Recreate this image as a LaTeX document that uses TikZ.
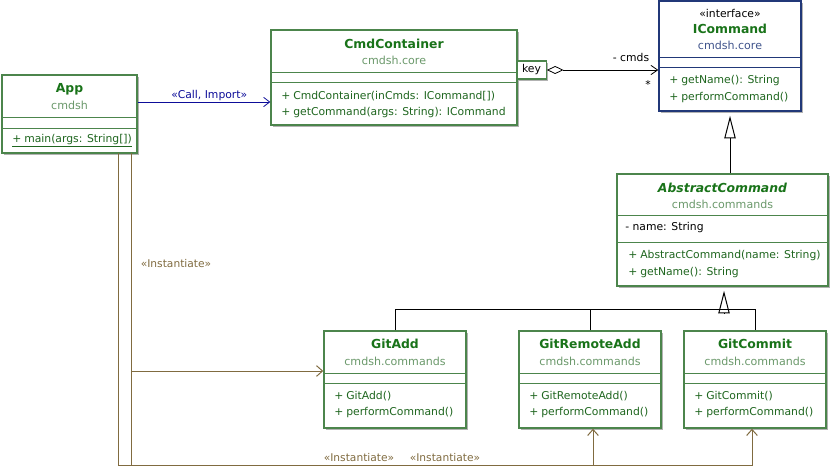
\documentclass[tikz,border=0pt]{standalone}
\usepackage{fontspec}
\setmainfont{DejaVu Sans}
\usetikzlibrary{arrows.meta,fit,shadows}

\definecolor{clsgreen}{rgb}{0.30,0.52,0.30}
\definecolor{titlegreen}{rgb}{0.10,0.45,0.10}
\definecolor{pkggreen}{rgb}{0.42,0.60,0.42}
\definecolor{opgreen}{rgb}{0.12,0.40,0.12}
\definecolor{ifnavy}{rgb}{0.13,0.22,0.47}
\definecolor{ifpkg}{rgb}{0.25,0.33,0.55}
\definecolor{callblue}{rgb}{0.05,0.05,0.60}
\definecolor{instbrown}{rgb}{0.50,0.42,0.25}

\newcommand{\opline}[1]{\makebox[9pt][l]{+}#1}

\tikzset{
  clsbox/.style={draw=clsgreen, fill=white, line width=1.1pt, inner sep=0pt,
    drop shadow={shadow xshift=1.6pt, shadow yshift=-1.6pt, fill=black!30, opacity=1}},
  ifbox/.style={clsbox, draw=ifnavy},
  clsrule/.style={draw=clsgreen, line width=0.75pt},
  clstitle/.style={font=\fontsize{9.3}{11}\selectfont\bfseries, text=titlegreen, inner sep=0pt},
  clspkg/.style={font=\fontsize{8.3}{10}\selectfont, text=pkggreen, inner sep=0pt},
  clsop/.style={font=\fontsize{8.1}{10}\selectfont, text=opgreen, anchor=west, inner sep=0pt},
  clsattr/.style={font=\fontsize{8.1}{10}\selectfont, anchor=west, inner sep=0pt},
  plainlabel/.style={font=\fontsize{8.1}{10}\selectfont, inner sep=0pt},
  keybox/.style={draw=clsgreen, fill=white, line width=1pt, font=\fontsize{8.1}{10}\selectfont,
    minimum width=22pt, minimum height=13.5pt, inner sep=0pt,
    drop shadow={shadow xshift=1.2pt, shadow yshift=-1.2pt, fill=black!30, opacity=1}},
  callline/.style={draw=callblue, line width=0.6pt, -{Straight Barb[length=4.5pt,width=7pt]}},
  aggrline/.style={line width=0.6pt,
    {Diamond[open, length=12.5pt, width=6pt]}-{Straight Barb[length=5pt,width=7pt]}},
  genline/.style={line width=0.75pt},
  gentip/.style={line width=0.75pt, -{Triangle[open, length=17pt, width=8.5pt]}},
  instline/.style={draw=instbrown, line width=0.75pt, -{Straight Barb[length=4.5pt,width=8pt]}},
  instlabel/.style={font=\fontsize{8}{10}\selectfont, text=instbrown, inner sep=0pt}
}

\begin{document}
\begin{tikzpicture}[x=0.75pt,y=-0.75pt]
  \useasboundingbox (0,0) rectangle (831,466);

  % App
  \node[clsbox, fit={(2,75)(137,153)}] (app) {};
  \node[clstitle] (app-name) at (69.5,89) {App};
  \node[clspkg] (app-pkg) at (69.5,105) {cmdsh};
  \draw[clsrule] (app.west |- 0,118) -- (app.east |- 0,118);
  \draw[clsrule] (app.west |- 0,129) -- (app.east |- 0,129);
  \node[clsop] (app-main) at (12,141) {\underline{\opline{main(args: String[])}}};

  % CmdContainer
  \node[clsbox, fit={(271,30)(517,125)}] (cmd) {};
  \node[clstitle] (cmd-name) at (394,44) {CmdContainer};
  \node[clspkg] (cmd-pkg) at (394,60) {cmdsh.core};
  \draw[clsrule] (cmd.west |- 0,73) -- (cmd.east |- 0,73);
  \draw[clsrule] (cmd.west |- 0,83) -- (cmd.east |- 0,83);
  \node[clsop] (cmd-op1) at (281,96) {\opline{CmdContainer(inCmds: ICommand[])}};
  \node[clsop] (cmd-op2) at (281,113) {\opline{getCommand(args: String): ICommand}};
  \node[keybox] (key) at (531.5,70) {key};

  % ICommand
  \node[ifbox, fit={(659,1)(801,111)}] (icmd) {};
  \node[plainlabel] (icmd-stereo) at (730,13) {«interface»};
  \node[clstitle] (icmd-name) at (730,29) {ICommand};
  \node[clspkg, text=ifpkg] (icmd-pkg) at (730,45) {cmdsh.core};
  \draw[clsrule, draw=ifnavy] (icmd.west |- 0,58) -- (icmd.east |- 0,58);
  \draw[clsrule, draw=ifnavy] (icmd.west |- 0,68) -- (icmd.east |- 0,68);
  \node[clsop] (icmd-op1) at (669,81) {\opline{getName(): String}};
  \node[clsop] (icmd-op2) at (669,98) {\opline{performCommand()}};

  % AbstractCommand
  \node[clsbox, fit={(617,174)(828,286)}] (abs) {};
  \node[clstitle, font=\fontsize{9.3}{11}\selectfont\bfseries\itshape] (abs-name) at (722.5,188) {AbstractCommand};
  \node[clspkg] (abs-pkg) at (722.5,204) {cmdsh.commands};
  \draw[clsrule] (abs.west |- 0,216) -- (abs.east |- 0,216);
  \node[clsattr] (abs-attr) at (625,228) {- name: String};
  \draw[clsrule] (abs.west |- 0,243) -- (abs.east |- 0,243);
  \node[clsop] (abs-op1) at (628,256) {\opline{AbstractCommand(name: String)}};
  \node[clsop] (abs-op2) at (628,273) {\opline{getName(): String}};

  % commands
  \foreach \name/\cls/\lx in {gitadd/GitAdd/324, gitremote/GitRemoteAdd/519, gitcommit/GitCommit/684} {
    \node[clsbox, fit={(\lx,331)(\lx+142,428)}] (\name) {};
    \node[clstitle] (\name-name) at (\lx+71,344) {\cls};
    \node[clspkg] (\name-pkg) at (\lx+71,361) {cmdsh.commands};
    \draw[clsrule] (\name.west |- 0,373) -- (\name.east |- 0,373);
    \draw[clsrule] (\name.west |- 0,383) -- (\name.east |- 0,383);
    \node[clsop] (\name-op1) at (\lx+10,396) {\opline{\cls()}};
    \node[clsop] (\name-op2) at (\lx+10,413) {\opline{performCommand()}};
  }

  % call
  \draw[callline] (app.east |- 0,102) -- (cmd.west |- 0,102)
    node[plainlabel, text=callblue, pos=0.54, above=1pt] (call-label) {«Call, Import»};

  % aggregation
  \draw[aggrline] (key.east) -- (icmd.west |- key.east);
  \node[plainlabel] (cmds-role) at (631,57) {- cmds};
  \node[plainlabel] (cmds-mult) at (648,84) {*};

  % realization and generalization
  \draw[gentip, shorten >=3pt] (abs.north -| icmd.south) -- (icmd.south);
  \coordinate (tree-join) at (724,310);
  \draw[genline] (gitadd.north) |- (gitcommit.north |- tree-join) -- (gitcommit.north);
  \draw[genline] (gitremote.north) -- (gitremote.north |- tree-join);
  \draw[gentip, shorten >=3pt] ([yshift=-2.25pt]tree-join) -- (tree-join |- abs.south);

  % instantiate
  \coordinate (inst-outer) at (118,153);
  \coordinate (inst-inner) at (131,153);
  \coordinate (inst-bottom) at (0,465);
  \draw[instline] (inst-outer) |- ([xshift=-2.25pt]gitcommit.south |- inst-bottom)
    -- ([xshift=-2.25pt]gitcommit.south);
  \draw[instline] (inst-inner) |- ([xshift=2.25pt]gitremote.south |- inst-bottom)
    -- ([xshift=2.25pt]gitremote.south);
  \draw[instline] (inst-inner |- 0,371) -- (gitadd.west |- 0,371);
  \node[instlabel] (inst-label1) at (176,264) {«Instantiate»};
  \node[instlabel] (inst-label2) at (359,458) {«Instantiate»};
  \node[instlabel] (inst-label3) at (445,458) {«Instantiate»};
\end{tikzpicture}
\end{document}
